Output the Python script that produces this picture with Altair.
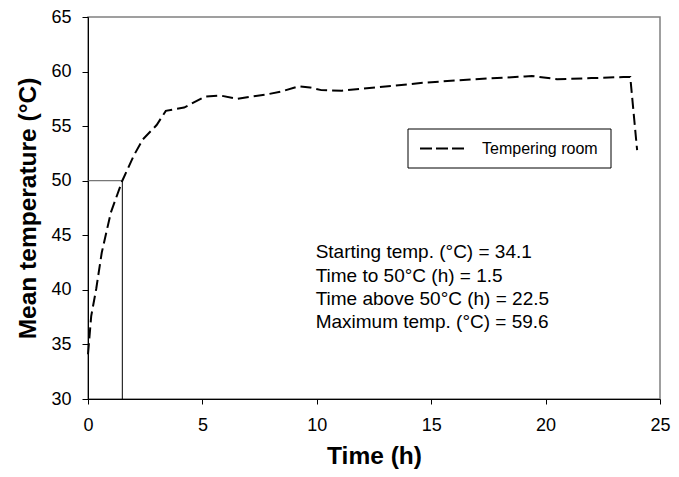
import altair as alt
import pandas as pd

# ---- data ----
time_h = [0, 0.14, 0.36, 0.6, 1.0, 1.5, 2.0, 2.4, 3.0, 3.4, 4.2, 5.1, 5.8, 6.5, 7.1,
          7.8, 8.5, 9.2, 9.7, 10.2, 11.1, 12.6, 14.8, 16.9, 19.1, 19.4, 20.5, 22.0,
          23.4, 23.7, 24.0]
temp_c = [34.1, 37.6, 40.1, 43.4, 47.1, 50.0, 52.3, 53.8, 55.1, 56.4, 56.7, 57.7, 57.8,
          57.5, 57.7, 57.9, 58.2, 58.65, 58.55, 58.3, 58.25, 58.55, 59.0, 59.3, 59.55,
          59.6, 59.3, 59.4, 59.5, 59.5, 52.8]
series_name = "Tempering room"

x_ticks = [0, 5, 10, 15, 20, 25]
y_ticks = [30, 35, 40, 45, 50, 55, 60, 65]

ref_time = 1.5
ref_temp = 50

notes = ["Starting temp. (°C) = 34.1",
         "Time to 50°C (h) = 1.5",
         "Time above 50°C (h) = 22.5",
         "Maximum temp. (°C) = 59.6"]
note_x = [9.95, 9.95, 9.95, 9.95]
note_y = [42.92, 40.75, 38.61, 36.5]

FONT = "Liberation Sans, Arial, Helvetica, sans-serif"
DASH = [11, 5]

df = pd.DataFrame({"t": time_h, "temp": temp_c, "series": series_name})
hdf = pd.DataFrame({"x0": [0], "x1": [ref_time], "y": [ref_temp]})
vdf = pd.DataFrame({"x": [ref_time], "y0": [30], "y1": [ref_temp]})
ndf = pd.DataFrame({"x": note_x, "y": note_y, "label": notes})

W, H = 572, 382

xs = alt.Scale(domain=[0, 25], nice=False, zero=False)
ys = alt.Scale(domain=[30, 65], nice=False, zero=False)

x_axis = alt.Axis(values=x_ticks, tickSize=5, labelPadding=12, title="Time (h)",
                  titleX=W / 2, titleY=64.5, titleBaseline="alphabetic",
                  titleAlign="center", labelFlush=False)
y_axis = alt.Axis(values=y_ticks, tickSize=6, labelPadding=11,
                  title="Mean temperature (°C)", titleX=-53, titleY=H / 2,
                  titleAngle=270, titleBaseline="alphabetic", titleAlign="center")

line = alt.Chart(df).mark_line(color="black", strokeWidth=2).encode(
    x=alt.X("t:Q", scale=xs, axis=x_axis),
    y=alt.Y("temp:Q", scale=ys, axis=y_axis),
    strokeDash=alt.StrokeDash(
        "series:N",
        scale=alt.Scale(domain=[series_name], range=[DASH]),
        legend=None,
    ),
)

hrule = alt.Chart(hdf).mark_rule(color="#555555", strokeWidth=1).encode(
    x="x0:Q", x2="x1:Q", y="y:Q")
vrule = alt.Chart(vdf).mark_rule(color="black", strokeWidth=1).encode(
    x="x:Q", y="y0:Q", y2="y1:Q")

text = alt.Chart(ndf).mark_text(align="left", baseline="alphabetic", font=FONT,
                                fontSize=19, color="black").encode(
    x="x:Q", y="y:Q", text="label:N")

# legend box drawn inside the plot, upper right
leg_src = pd.DataFrame({"series": [series_name]})
leg_box = alt.Chart(leg_src).mark_rect(fill="white", stroke="black", strokeWidth=1).encode(
    x=alt.value(320), x2=alt.value(523), y=alt.value(112), y2=alt.value(151))
leg_line = alt.Chart(leg_src).mark_rule(color="black", strokeWidth=2,
                                        strokeDash=[12, 4]).encode(
    x=alt.value(332), x2=alt.value(376), y=alt.value(131.5))
leg_text = alt.Chart(leg_src).mark_text(align="left", baseline="alphabetic", font=FONT,
                                        fontSize=16, color="black").encode(
    x=alt.value(394), y=alt.value(137), text="series:N")

chart = alt.layer(hrule, vrule, line, text, leg_box, leg_line, leg_text).properties(
    width=W, height=H,
    autosize=alt.AutoSizeParams(type="none"),
    padding={"left": 80, "top": 9, "right": 11, "bottom": 70},
).configure_view(
    stroke="#808080", strokeWidth=1.5
).configure_axis(
    grid=False, domainColor="black", tickColor="black", domainWidth=1, tickWidth=1,
    labelFont=FONT, labelFontSize=18, labelColor="black",
    titleFont=FONT, titleFontSize=24.5, titleFontWeight="bold", titleColor="black",
)

chart.save("out.html", embed_options={"renderer": "svg", "actions": False})
